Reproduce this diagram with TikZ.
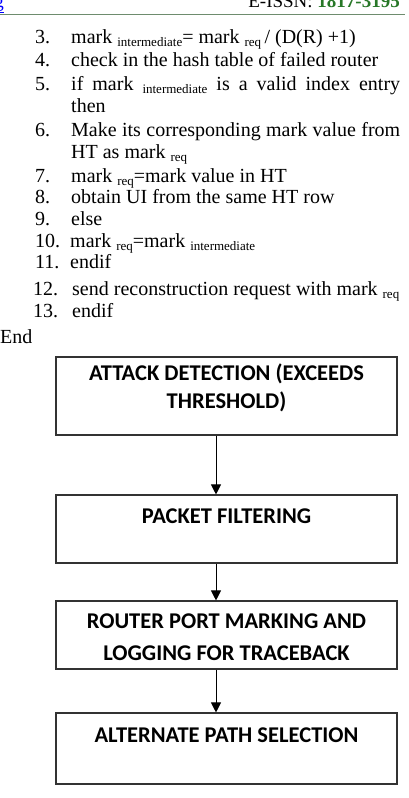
\documentclass[tikz,border=0pt]{standalone}
\usepackage{fontspec}
\setmainfont{Liberation Serif}
\newfontfamily\boxfont{Carlito}
\usetikzlibrary{arrows.meta}
\definecolor{hdrgreen}{RGB}{40,120,40}
\definecolor{hdrline}{RGB}{110,140,110}
\newcommand\sbs[1]{\raisebox{-0.35ex}{\fontsize{13}{14}\selectfont #1}}
\begin{document}
\begin{tikzpicture}[x=1pt,y=-1pt,
  num/.style={anchor=base west, inner sep=0pt, font=\fontsize{20}{22}\selectfont},
  txt/.style={anchor=base west, inner sep=0pt, font=\fontsize{20}{22}\selectfont},
  box/.style={draw=black!80, line width=1.1pt, minimum width=341pt, inner sep=0pt},
  lbl/.style={anchor=base, inner sep=0pt, font=\boxfont\bfseries\fontsize{22.5}{26}\selectfont},
  arr/.style={draw=black, line width=1pt, -{Triangle[width=10pt,length=10pt]}}]
\useasboundingbox (0,0) rectangle (408,798);
\clip (0,0) rectangle (408,798);
% header
\node[anchor=base east, inner sep=0pt, font=\fontsize{19}{20}\selectfont] (hdr) at (400,7) {E-ISSN: \textcolor{hdrgreen}{\textbf{1817-3195}}};
\node[anchor=base east, inner sep=0pt, text=blue, font=\fontsize{19}{20}\selectfont] (url) at (4,7) {\underline{g}};
\coordinate (hl) at (0,14.5);
\coordinate (hr) at (405,14.5);
\draw[hdrline, line width=1.5pt] (hl) -- (hr);
% algorithm lines
\node[num] (n3) at (35,43) {3.};
\node[txt] (t3) at (71,43) {mark \sbs{intermediate}= mark \sbs{req}\,/ (D(R) +1)};
\node[num] (n4) at (35,66) {4.};
\node[txt] (t4) at (71,66) {check in the hash table of failed router};
\node[num] (n5) at (35,90) {5.};
\node[txt] (t5) at (71,90) {\makebox[329pt][s]{if mark \sbs{intermediate} is a valid index entry}};
\node[txt] (t5b) at (71,112) {then};
\node[num] (n6) at (35,136) {6.};
\node[txt] (t6) at (71,136) {\makebox[329pt][s]{Make its corresponding mark value from}};
\node[txt] (t6b) at (71,158) {HT as mark \sbs{req}};
\node[num] (n7) at (35,182) {7.};
\node[txt] (t7) at (71,182) {mark \sbs{req}=mark value in HT};
\node[num] (n8) at (35,203) {8.};
\node[txt] (t8) at (71,203) {obtain UI from the same HT row};
\node[num] (n9) at (35,225) {9.};
\node[txt] (t9) at (71,225) {else};
\node[num] (n10) at (35,247) {10.};
\node[txt] (t10) at (70,247) {mark \sbs{req}=mark \sbs{intermediate}};
\node[num] (n11) at (35,268) {11.};
\node[txt] (t11) at (70,268) {endif};
\node[num] (n12) at (33,295) {12.};
\node[txt] (t12) at (72,295) {send reconstruction request with mark \sbs{req}};
\node[num] (n13) at (33,317) {13.};
\node[txt] (t13) at (72,317) {endif};
\node[txt] (tend) at (0,343) {End};
% flowchart
\node[box, minimum height=78pt] (b1) at (226.5,396) {};
\node[lbl] (l1a) at (226.5,380) {ATTACK DETECTION (EXCEEDS};
\node[lbl] (l1b) at (226.5,408) {THRESHOLD)};
\node[box, minimum height=68pt] (b2) at (226.5,529) {};
\node[lbl] (l2) at (226.5,523) {PACKET FILTERING};
\node[box, minimum height=68pt] (b3) at (226.5,635) {};
\node[lbl] (l3a) at (226.5,628) {ROUTER PORT MARKING AND};
\node[lbl] (l3b) at (226.5,660) {LOGGING FOR TRACEBACK};
\node[box, minimum height=71pt] (b4) at (226.5,748.5) {};
\node[lbl] (l4) at (226.5,742) {ALTERNATE PATH SELECTION};
\coordinate (ax) at (216,0);
\draw[arr] (b1.south -| ax) -- (b2.north -| ax);
\draw[arr] (b2.south -| ax) -- (b3.north -| ax);
\draw[arr] (b3.south -| ax) -- (b4.north -| ax);
\end{tikzpicture}
\end{document}
